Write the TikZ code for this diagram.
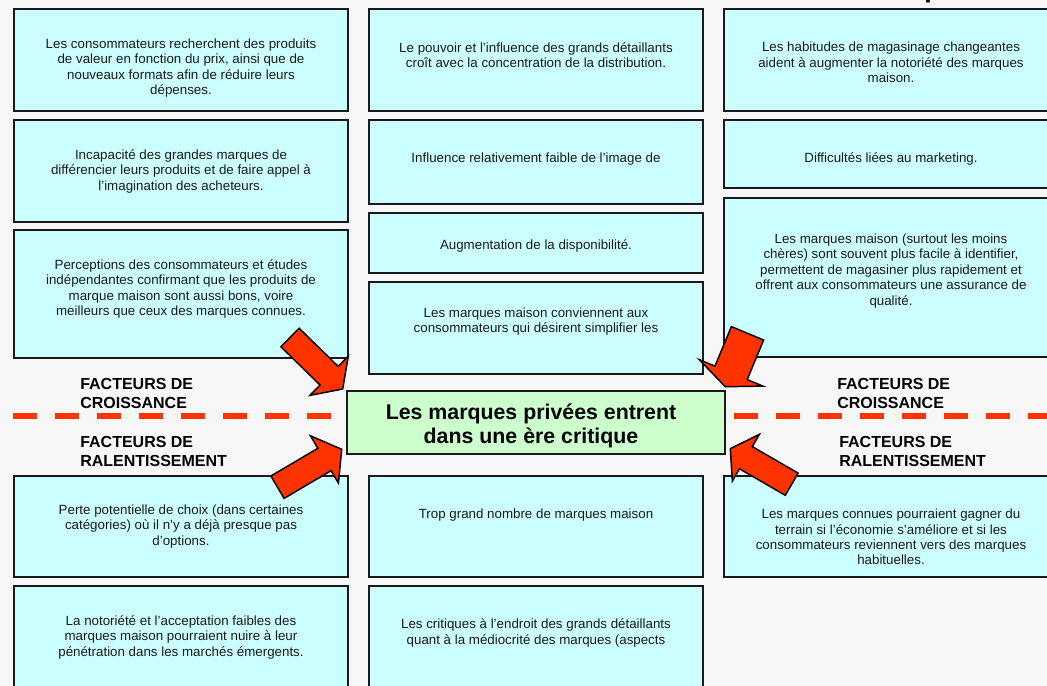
\documentclass[tikz,border=0pt]{standalone}
\usepackage{fontspec}
\setmainfont{Liberation Sans}
\usetikzlibrary{calc}
\definecolor{bgc}{HTML}{F7F7F7}
\definecolor{boxc}{HTML}{CCFFFF}
\definecolor{ctrc}{HTML}{CCFFCC}
\definecolor{redc}{HTML}{FF3300}
\definecolor{edgec}{HTML}{1A1A1A}
\newcommand{\drawblockarrow}[5]{%
  \coordinate (ba-B) at ($(#2)!#5!(#1)$);
  \filldraw[blockarrow] ($(#1)!#3!90:(#2)$) -- ($(ba-B)!#3!90:(#2)$) -- ($(ba-B)!#4!90:(#2)$) -- (#2)
    -- ($(ba-B)!#4!-90:(#2)$) -- ($(ba-B)!#3!-90:(#2)$) -- ($(#1)!#3!-90:(#2)$) -- cycle;}
\begin{document}
\begin{tikzpicture}[x=0.75pt,y=-0.75pt,
  box/.style={draw=edgec, line width=1.5pt, fill=boxc, anchor=north west, inner sep=0, minimum width=250.5pt},
  ctrbox/.style={draw=edgec, line width=1.5pt, fill=ctrc, anchor=north west, inner sep=0, minimum width=283.5pt, minimum height=47.25pt},
  boxtext/.style={anchor=north, align=center, inner sep=0, font=\fontsize{10}{11.6}\selectfont, text=black!90},
  lab/.style={anchor=north west, align=left, inner sep=0, font=\bfseries\fontsize{12}{14.25}\selectfont},
  ctrtext/.style={anchor=north, align=center, inner sep=0, font=\bfseries\fontsize{16}{18}\selectfont},
  dashline/.style={draw=redc, line width=4.5pt, dash pattern=on 18pt off 13.5pt},
  blockarrow/.style={fill=redc, draw=black, line width=1.1pt, line join=miter}]
\useasboundingbox (0,0) rectangle (1047,686);
\fill[bgc] (0,0) rectangle (1047,686);
\begin{scope}
\clip (0,0) rectangle (1047,686);
\node[anchor=base west, inner sep=0, font=\bfseries\fontsize{20}{24}\selectfont] (title) at (924,-2.6) {p};
% left column
\node[box, minimum height=76.5pt] (l1) at (13,8) {};
\node[box, minimum height=76.5pt] (l2) at (13,119) {};
\node[box, minimum height=96pt] (l3) at (13,229) {};
\node[box, minimum height=75.75pt] (l4) at (13,475) {};
\node[box, minimum height=82.5pt] (l5) at (13,585) {};
% middle column
\node[box, minimum height=76.5pt] (m1) at (368,8) {};
\node[box, minimum height=63pt] (m2) at (368,119) {};
\node[box, minimum height=45pt] (m3) at (368,212) {};
\node[box, minimum height=69pt] (m4) at (368,281) {};
\node[box, minimum height=75.75pt] (m5) at (368,475) {};
\node[box, minimum height=82.5pt] (m6) at (368,585) {};
% right column
\node[box, minimum height=76.5pt] (r1) at (723,8) {};
\node[box, minimum height=51pt] (r2) at (723,119) {};
\node[box, minimum height=119.25pt] (r3) at (723,197) {};
\node[box, minimum height=75.75pt] (r4) at (723,475) {};
% centre
\node[ctrbox] (c) at (346,390) {};
% texts
\node[boxtext] (l1t) at ($(l1.north)+(0,30.6)$) {Les consommateurs recherchent des produits\\de valeur en fonction du prix, ainsi que de\\nouveaux formats afin de réduire leurs\\dépenses.};
\node[boxtext] (l2t) at ($(l2.north)+(0,30.3)$) {Incapacité des grandes marques de\\différencier leurs produits et de faire appel à\\l'imagination des acheteurs.};
\node[boxtext] (l3t) at ($(l3.north)+(0,30.3)$) {Perceptions des consommateurs et études\\indépendantes confirmant que les produits de\\marque maison sont aussi bons, voire\\meilleurs que ceux des marques connues.};
\node[boxtext] (l4t) at ($(l4.north)+(0,29.3)$) {Perte potentielle de choix (dans certaines\\catégories) où il n'y a déjà presque pas\\d'options.};
\node[boxtext] (l5t) at ($(l5.north)+(0,30.3)$) {La notoriété et l'acceptation faibles des\\marques maison pourraient nuire à leur\\pénétration dans les marchés émergents.};
\node[boxtext] (m1t) at ($(m1.north)+(0,34)$) {Le pouvoir et l'influence des grands détaillants\\croît avec la concentration de la distribution.};
\node[boxtext] (m2t) at ($(m2.north)+(0,33.6)$) {Influence relativement faible de l'image de};
\node[boxtext] (m3t) at ($(m3.north)+(0,27.8)$) {Augmentation de la disponibilité.};
\node[boxtext] (m4t) at ($(m4.north)+(0,26.6)$) {Les marques maison conviennent aux\\consommateurs qui désirent simplifier les};
\node[boxtext] (m5t) at ($(m5.north)+(0,33.6)$) {Trop grand nombre de marques maison};
\node[boxtext] (m6t) at ($(m6.north)+(0,33.6)$) {Les critiques à l'endroit des grands détaillants\\quant à la médiocrité des marques (aspects};
\node[boxtext] (r1t) at ($(r1.north)+(0,34)$) {Les habitudes de magasinage changeantes\\aident à augmenter la notoriété des marques\\maison.};
\node[boxtext] (r2t) at ($(r2.north)+(0,33.6)$) {Difficultés liées au marketing.};
\node[boxtext] (r3t) at ($(r3.north)+(0,36.6)$) {Les marques maison (surtout les moins\\chères) sont souvent plus facile à identifier,\\permettent de magasiner plus rapidement et\\offrent aux consommateurs une assurance de\\qualité.};
\node[boxtext] (r4t) at ($(r4.north)+(0,33.6)$) {Les marques connues pourraient gagner du\\terrain si l'économie s'améliore et si les\\consommateurs reviennent vers des marques\\habituelles.};
\node[ctrtext] (ct) at ($(c.north)+(-5,13.2)$) {Les marques privées entrent\\dans une ère critique};
% dashed divider
\coordinate (dl0) at (13,415.5);
\coordinate (dl1) at (331,415.5);
\coordinate (dr0) at (734,415.5);
\coordinate (dr1) at (1060,415.5);
\draw[dashline] (dl0) -- (dl1);
\draw[dashline] (dr0) -- (dr1);
% labels
\node[lab] (lgl) at (80,377.6) {FACTEURS DE\\CROISSANCE};
\node[lab] (lsl) at (80,435.6) {FACTEURS DE\\RALENTISSEMENT};
\node[lab] (lgr) at (837,377.6) {FACTEURS DE\\CROISSANCE};
\node[lab] (lsr) at (839,435.6) {FACTEURS DE\\RALENTISSEMENT};
% block arrows
\coordinate (ulTip) at ($(c.north west)+(-3.3,-1)$);
\coordinate (ulTail) at (290,337.5);
\drawblockarrow{ulTail}{ulTip}{9.75pt}{20.6pt}{14.25pt}
\coordinate (llTip) at ($(c.south west)+(-4.3,-5.7)$);
\coordinate (llTail) at (277.5,487.2);
\drawblockarrow{llTail}{llTip}{9.75pt}{20.6pt}{15pt}
\coordinate (urTip) at ($(c.north east)+(-0.7,-3.3)$);
\coordinate (urTail) at (747.5,333.3);
\drawblockarrow{urTail}{urTip}{13.1pt}{25.9pt}{11.25pt}
\coordinate (lrTip) at ($(c.south east)+(4.3,-6.3)$);
\coordinate (lrTail) at (791.7,484.2);
\drawblockarrow{lrTail}{lrTip}{9.6pt}{20.25pt}{13.5pt}
\end{scope}
\end{tikzpicture}
\end{document}
